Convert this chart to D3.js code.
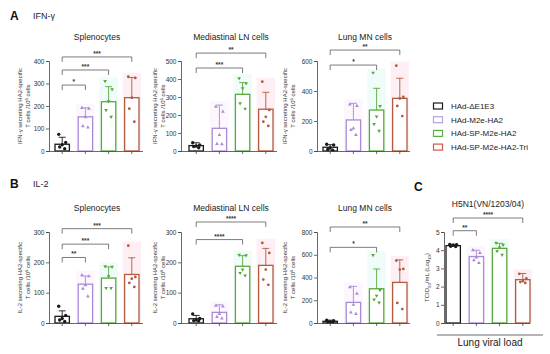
<!DOCTYPE html>
<html>
<head>
<meta charset="utf-8">
<script src="https://cdn.jsdelivr.net/npm/d3@7"></script>
<style>
  body { margin: 0; background: #fff; }
  svg { display: block; font-family: "Liberation Sans", Arial, sans-serif; }
</style>
</head>
<body>
<svg id="chart" width="550" height="354"></svg>
<script>
// groups + colours
const groups = ["HAd-\u0394E1E3", "HAd-M2e-HA2", "HAd-SP-M2e-HA2", "HAd-SP-M2e-HA2-Tri"];
const barColors = ["#1a1a1a", "#a98ad8", "#5aa83c", "#b35a3f"];
const legendColors = ["#1a1a1a", "#b9a0e3", "#5cb040", "#d4574a"];
const tintColors = [null, "#fdf6fc", "#effcfa", "#fdeff3"];
const symbols = [d3.symbolCircle, d3.symbolTriangle, d3.symbolTriangle, d3.symbolCircle];

// A: IFN-g
const ifnSpleenMean = [30, 152, 219, 237];
const ifnSpleenTop = [61, 192, 286, 327];
const ifnSpleenPts = [[74, 38, 28, 18, 10], [192, 188, 150, 110, 105], [311, 274, 221, 182, 152], [330, 325, 237, 188, 130]];
const ifnSpleenTicks = [0, 100, 200, 300, 400];
const ifnSpleenSig = [[0, 1, "*", 293], [0, 2, "***", 360], [0, 3, "***", 418]];

const ifnMedMean = [30, 126, 315, 232];
const ifnMedTop = [46, 255, 380, 326];
const ifnMedPts = [[46, 33, 28, 25, 18], [246, 218, 89, 40, 38], [404, 376, 348, 265, 235], [385, 228, 190, 163, 139]];
const ifnMedTicks = [0, 100, 200, 300, 400, 500];
const ifnMedSig = [[0, 2, "***", 461], [0, 3, "**", 544]];

const ifnLungMean = [25, 207, 273, 351];
const ifnLungTop = [42, 318, 418, 485];
const ifnLungPts = [[45, 40, 20, 10, 5], [311, 300, 151, 140, 107], [522, 300, 230, 180, 135], [569, 360, 350, 300, 233]];
const ifnLungTicks = [0, 200, 400, 600];
const ifnLungSig = [[0, 2, "*", 573], [0, 3, "**", 673]];

// B: IL-2
const ilSpleenMean = [22, 128, 148, 160];
const ilSpleenTop = [40, 155, 185, 215];
const ilSpleenPts = [[55, 25, 15, 10, 5], [158, 154, 125, 113, 88], [187, 185, 154, 115, 115], [255, 152, 146, 132, 119]];
const ilSpleenTicks = [0, 100, 200, 300];
const ilSpleenSig = [[0, 1, "**", 216], [0, 2, "***", 260], [0, 3, "***", 311]];

const ilMedMean = [14, 35, 187, 190];
const ilMedTop = [25, 60, 222, 246];
const ilMedPts = [[30, 15, 10, 8, 7], [57, 55, 30, 20, 15], [225, 223, 176, 165, 156], [264, 231, 176, 143, 126]];
const ilMedTicks = [0, 100, 200, 300];
const ilMedSig = [[0, 2, "****", 275], [0, 3, "****", 333]];

const ilLungMean = [15, 181, 301, 357];
const ilLungTop = [25, 322, 475, 555];
const ilLungPts = [[25, 20, 10, 10, 5], [316, 258, 160, 93, 80], [598, 290, 240, 205, 180], [549, 475, 470, 176, 123]];
const ilLungTicks = [0, 200, 400, 600, 800];
const ilLungSig = [[0, 2, "*", 665], [0, 3, "**", 844]];

// C: lung viral load
const virusMean = [4.25, 3.65, 4.1, 2.38];
const virusTop = [4.33, 4.0, 4.38, 2.72];
const virusPts = [[4.32, 4.3, 4.27, 4.22, 4.2], [4.0, 3.85, 3.6, 3.45, 3.3], [4.4, 4.3, 4.15, 3.95, 3.75], [2.7, 2.45, 2.3, 2.25, 2.2]];
const virusTicks = [0, 1, 2, 3, 4, 5];
const virusSig = [[0, 1, "**", 5.07], [0, 3, "****", 5.77]];

const jitter = [-3.5, 3.5, 0, -2.5, 2.5];

const svg = d3.select("#chart");

function drawPanel(p) {
  const g = svg.append("g");
  const x = d3.scaleBand().domain(groups).range([p.x0 + p.pad, p.x0 + p.pad + 84]).paddingInner(0.38).paddingOuter(0);
  const y = d3.scaleLinear().domain([0, p.ticks[p.ticks.length - 1]]).range([p.yBottom, p.yTop]);
  const bw = x.bandwidth();

  // pale tint behind bars
  groups.forEach((grp, i) => {
    if (!tintColors[i]) return;
    const hi = Math.max(p.top[i], d3.max(p.pts[i]));
    g.append("rect")
      .attr("x", x(grp) - 2).attr("width", bw + 4)
      .attr("y", y(hi) - 4).attr("height", y(0) - y(hi) + 4)
      .attr("fill", tintColors[i]);
  });

  // bars
  g.selectAll(".bar").data(p.mean).join("rect")
    .attr("x", (d, i) => x(groups[i]))
    .attr("y", d => y(d))
    .attr("width", bw)
    .attr("height", d => y(0) - y(d))
    .attr("fill", "#fff")
    .attr("stroke", (d, i) => barColors[i])
    .attr("stroke-width", 1.3);

  // error bars (upper SD)
  groups.forEach((grp, i) => {
    const cx = x(grp) + bw / 2;
    g.append("line").attr("x1", cx).attr("x2", cx)
      .attr("y1", y(p.mean[i])).attr("y2", y(p.top[i]))
      .attr("stroke", barColors[i]).attr("stroke-width", 0.9);
    g.append("line").attr("x1", cx - 3.5).attr("x2", cx + 3.5)
      .attr("y1", y(p.top[i])).attr("y2", y(p.top[i]))
      .attr("stroke", barColors[i]).attr("stroke-width", 0.9);
    // points
    p.pts[i].forEach((v, k) => {
      const rot = i === 2 ? " rotate(180)" : "";
      g.append("path")
        .attr("d", d3.symbol().type(symbols[i]).size(i === 0 ? 9 : 6))
        .attr("transform", `translate(${cx + jitter[k]},${y(v)})${rot}`)
        .attr("fill", barColors[i]);
    });
  });

  // axes
  const yAxis = g.append("g").attr("transform", `translate(${p.x0},0)`)
    .call(d3.axisLeft(y).tickValues(p.ticks).tickFormat(d3.format("d")).tickSize(3).tickPadding(1.5));
  yAxis.selectAll("text").attr("font-size", 6.5).attr("fill", "#333");
  yAxis.selectAll("line, path").attr("stroke", "#444").attr("stroke-width", 0.8);

  const xAxis = g.append("g").attr("transform", `translate(0,${p.yBottom})`)
    .call(d3.axisBottom(x).tickSize(3).tickFormat(""));
  xAxis.select(".domain").attr("d", `M${p.x0},0.5H${p.x1}`);
  xAxis.selectAll("line, path").attr("stroke", "#444").attr("stroke-width", 0.8);

  // title
  g.append("text")
    .attr("x", (x(groups[0]) + x(groups[3]) + bw) / 2)
    .attr("y", p.yTop - p.titleOff)
    .attr("text-anchor", "middle")
    .attr("font-size", 8.5)
    .attr("fill", "#222")
    .text(p.title);

  // y label
  const lab = g.append("g")
    .attr("transform", `translate(${p.x0 - p.labOff},${(p.yTop + p.yBottom) / 2}) rotate(-90)`);
  p.ylabel.forEach((line, li) => {
    const t = lab.append("text")
      .attr("x", 0).attr("y", li * 8)
      .attr("text-anchor", "middle")
      .attr("font-size", 6)
      .attr("fill", "#333");
    line.forEach(part => {
      const ts = t.append("tspan").text(part[0]);
      if (part[1] === "sup") ts.attr("font-size", 4.2).attr("dy", -2.5);
      if (part[1] === "sub") ts.attr("font-size", 4.2).attr("dy", 1.5);
      if (part[1] === "back") ts.attr("dy", part[2]);
    });
  });

  // significance brackets
  p.sig.forEach(([a, b, label, v]) => {
    const xa = x(groups[a]) + bw / 2, xb = x(groups[b]) + bw / 2, yy = y(v);
    g.append("path")
      .attr("d", `M${xa},${yy + 5}V${yy}H${xb}V${yy + 5}`)
      .attr("fill", "none").attr("stroke", "#444").attr("stroke-width", 0.7);
    g.append("text")
      .attr("x", (xa + xb) / 2).attr("y", yy - 1)
      .attr("text-anchor", "middle")
      .attr("font-size", 6.5).attr("font-weight", "bold").attr("fill", "#333")
      .text(label);
  });
}

const ifnLabel = [[["IFN-\u03b3 secreting HA2-specific"]], [["T cells /10"], ["6", "sup"], [" cells", "back", 2.5]]];
const ilLabel = [[["IL-2 secreting HA2-specific"]], [["T cells /10"], ["6", "sup"], [" cells", "back", 2.5]]];

const panels = [
  { title: "Splenocytes", mean: ifnSpleenMean, top: ifnSpleenTop, pts: ifnSpleenPts, ticks: ifnSpleenTicks, sig: ifnSpleenSig,
    x0: 49, x1: 143, pad: 6, yTop: 61, yBottom: 151, ylabel: ifnLabel, labOff: 27, titleOff: 21 },
  { title: "Mediastinal LN cells", mean: ifnMedMean, top: ifnMedTop, pts: ifnMedPts, ticks: ifnMedTicks, sig: ifnMedSig,
    x0: 181, x1: 277, pad: 8, yTop: 61, yBottom: 151, ylabel: ifnLabel, labOff: 24, titleOff: 21 },
  { title: "Lung MN cells", mean: ifnLungMean, top: ifnLungTop, pts: ifnLungPts, ticks: ifnLungTicks, sig: ifnLungSig,
    x0: 317, x1: 410, pad: 6, yTop: 61, yBottom: 151, ylabel: ifnLabel, labOff: 30, titleOff: 21 },
  { title: "Splenocytes", mean: ilSpleenMean, top: ilSpleenTop, pts: ilSpleenPts, ticks: ilSpleenTicks, sig: ilSpleenSig,
    x0: 49, x1: 143, pad: 6, yTop: 232, yBottom: 323, ylabel: ilLabel, labOff: 27, titleOff: 21 },
  { title: "Mediastinal LN cells", mean: ilMedMean, top: ilMedTop, pts: ilMedPts, ticks: ilMedTicks, sig: ilMedSig,
    x0: 181, x1: 277, pad: 8, yTop: 232, yBottom: 323, ylabel: ilLabel, labOff: 24, titleOff: 21 },
  { title: "Lung MN cells", mean: ilLungMean, top: ilLungTop, pts: ilLungPts, ticks: ilLungTicks, sig: ilLungSig,
    x0: 317, x1: 410, pad: 6, yTop: 232, yBottom: 323, ylabel: ilLabel, labOff: 30, titleOff: 21 },
  { title: "H5N1(VN/1203/04)", mean: virusMean, top: virusTop, pts: virusPts, ticks: virusTicks, sig: virusSig,
    x0: 444, x1: 530, pad: 2, yTop: 232, yBottom: 323,
    ylabel: [[["TCID"], ["50", "sub"], ["/mL (Log", "back", -1.5], ["10", "sub"], [")", "back", -1.5]]], labOff: 15, titleOff: 25 }
];
panels.forEach(drawPanel);

// panel letters
const letters = [["A", 10, 20, "IFN-\u03b3", 33], ["B", 10, 188, "IL-2", 33], ["C", 414, 191, null, 0]];
letters.forEach(([l, lx, ly, sub, sx]) => {
  svg.append("text").attr("x", lx).attr("y", ly)
    .attr("font-size", 12).attr("font-weight", "bold").attr("fill", "#111").text(l);
  if (sub) svg.append("text").attr("x", sx).attr("y", ly - 1)
    .attr("font-size", 9).attr("fill", "#222").text(sub);
});

// lung viral load footer
svg.append("line").attr("x1", 437).attr("x2", 543).attr("y1", 335).attr("y2", 335)
  .attr("stroke", "#444").attr("stroke-width", 0.8);
svg.append("text").attr("x", 490).attr("y", 346).attr("text-anchor", "middle")
  .attr("font-size", 10).attr("fill", "#222").text("Lung viral load");

// legend
const legend = svg.append("g").attr("transform", "translate(433,106)");
groups.forEach((grp, i) => {
  const row = legend.append("g").attr("transform", `translate(0,${i * 13.7})`);
  row.append("rect").attr("x", 0.5).attr("y", -3).attr("width", 9).attr("height", 6)
    .attr("fill", "#fff").attr("stroke", legendColors[i]).attr("stroke-width", 1.2);
  row.append("text").attr("x", 18).attr("y", 3)
    .attr("font-size", 8).attr("fill", "#222").text(grp);
});
</script>
</body>
</html>
